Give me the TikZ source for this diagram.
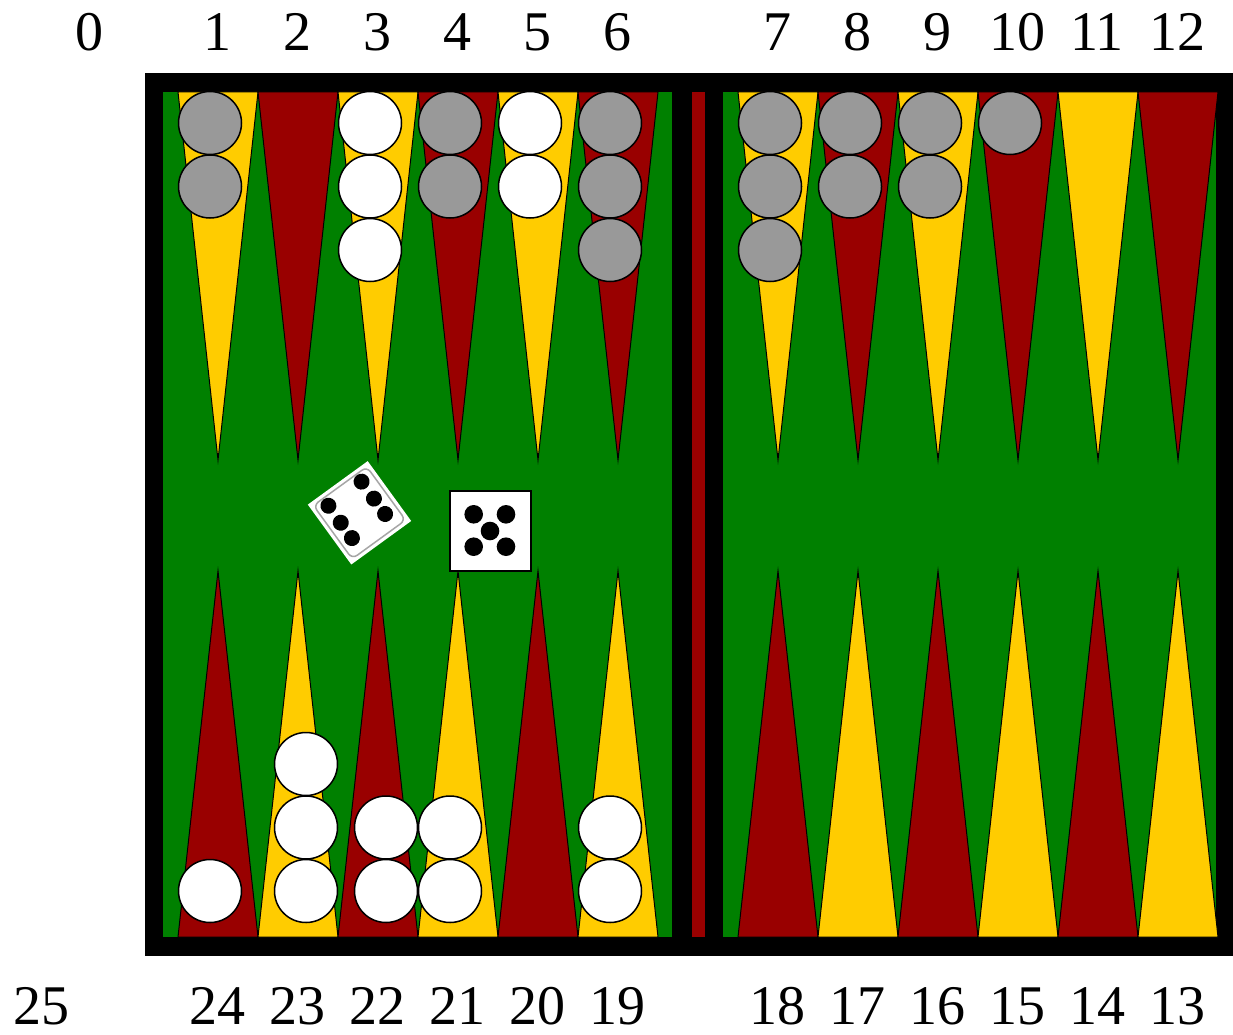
\documentclass[tikz,border=0pt]{standalone}
\usepackage{fontspec}
\setmainfont{Liberation Serif}

\definecolor{brettgruen}{RGB}{0,128,0}
\definecolor{brettrot}{RGB}{153,0,0}
\definecolor{brettgelb}{RGB}{255,204,0}
\definecolor{steingrau}{RGB}{153,153,153}

\tikzset{
	zunge/.style={draw=black, line width=1pt, line join=miter},
	stein/.style={circle, draw=black, line width=1.5pt, minimum size=63pt, inner sep=0pt},
	zahl/.style={font=\fontsize{56}{60}\selectfont, anchor=base, inner sep=0pt},
}

\begin{document}
\begin{tikzpicture}[x=1pt, y=-1pt]
\useasboundingbox (0,0) rectangle (1233,1035);

	% Zeichnet den schwarzen Rahmen, die gruene Spielflaeche und die Bar
	\fill[black] (145,73) rectangle (1233,956);
	\fill[brettgruen] (163,92) rectangle (672,937);
	\fill[brettgruen] (723,92) rectangle (1216,937);
	\fill[brettrot] (692,92) rectangle (705,937);

	% Zeichnet die Zungen oben und unten
	\foreach \x in {178,338,498,738,898,1058} {
		\filldraw[brettgelb][zunge] (\x,92) -- (\x+40,460) -- (\x+80,92) -- cycle;
		\filldraw[brettrot][zunge] (\x+80,92) -- (\x+120,460) -- (\x+160,92) -- cycle;
		\filldraw[brettrot][zunge] (\x,937) -- (\x+40,571) -- (\x+80,937) -- cycle;
		\filldraw[brettgelb][zunge] (\x+80,937) -- (\x+120,571) -- (\x+160,937) -- cycle;
	}

	% Zeichnet die Steine oben
	\foreach \x/\n/\farbe in {210/2/steingrau, 370/3/white, 450/2/steingrau, 530/2/white, 610/3/steingrau, 770/3/steingrau, 850/2/steingrau, 930/2/steingrau, 1010/1/steingrau}
		\foreach \k in {1,...,\n}
			\node[stein, fill=\farbe] (oben-\x-\k) at (\x, 59.5+63.5*\k) {};

	% Zeichnet die Steine unten
	\foreach \x/\n in {210/1, 306/3, 386/2, 450/2, 610/2}
		\foreach \k in {1,...,\n}
			\node[stein, fill=white] (unten-\x-\k) at (\x, 954.5-63.5*\k) {};

	% Zeichnet den gedrehten Wuerfel (Sechs)
	\begin{scope}[shift={(359.5,512.8)}, rotate=36]
		\fill[white] (-37,-37) rectangle (37,37);
		\draw[gray!70, line width=1.5pt, rounded corners=6pt] (-33,-33) rectangle (33,33);
		\foreach \px/\py in {-21/-24, -21/-3, -21/16, 20/-24, 20/-3, 20/16}
			\fill[black] (\px,\py) circle[radius=8pt];
	\end{scope}

	% Zeichnet den geraden Wuerfel (Fuenf)
	\draw[fill=white, line width=2pt] (449.5,491) rectangle (530.5,570.5);
	\foreach \px/\py in {473.7/514.3, 506/514.3, 490/531, 473.7/546.7, 506/546.7}
		\fill[black] (\px,\py) circle[radius=9.3pt];

	% Beschriftet die Felder oben und unten
	\foreach \x/\t in {89/0, 217/1, 297/2, 377/3, 457/4, 537/5, 617/6, 777/7, 857/8, 937/9, 1017/10, 1097/11, 1177/12}
		\node[zahl] (feld-\t) at (\x,51) {\t};
	\foreach \x/\t in {41/25, 217/24, 297/23, 377/22, 457/21, 537/20, 617/19, 777/18, 857/17, 937/16, 1017/15, 1097/14, 1177/13}
		\node[zahl] (feld-\t) at (\x,1024) {\t};

\end{tikzpicture}
\end{document}
